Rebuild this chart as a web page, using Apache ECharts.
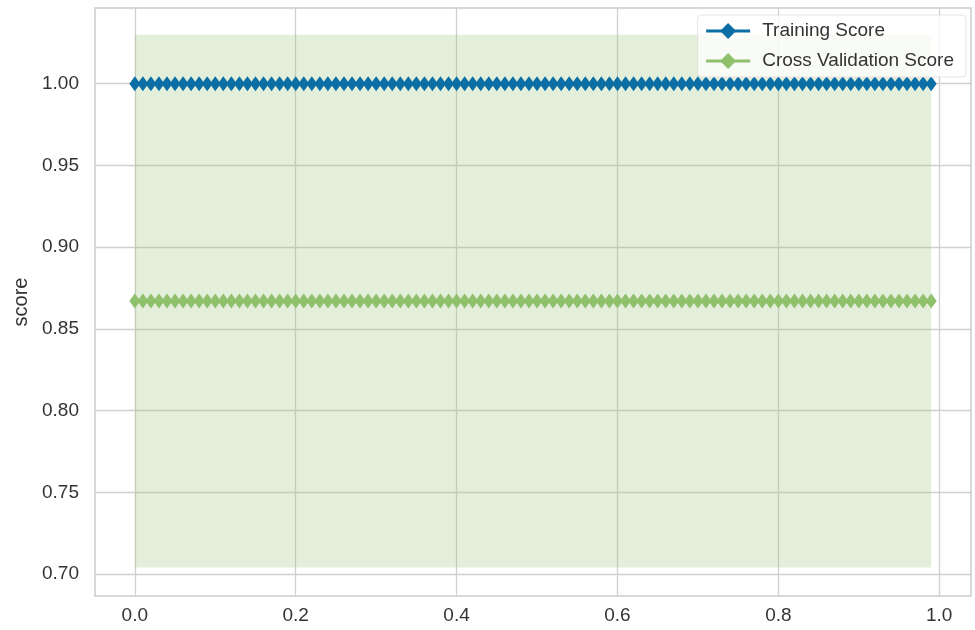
<!DOCTYPE html>
<html>
<head>
<meta charset="utf-8">
<title>Validation Curve</title>
<script src="https://cdn.jsdelivr.net/npm/echarts@6/dist/echarts.min.js"></script>
<style>
  html, body { margin: 0; padding: 0; background: #fff; }
  #chart { width: 975px; height: 630px; }
</style>
</head>
<body>
<div id="chart"></div>
<script>
// parameter values (x) and scores
const paramRange = [
  0.00, 0.01, 0.02, 0.03, 0.04, 0.05, 0.06, 0.07, 0.08, 0.09,
  0.10, 0.11, 0.12, 0.13, 0.14, 0.15, 0.16, 0.17, 0.18, 0.19,
  0.20, 0.21, 0.22, 0.23, 0.24, 0.25, 0.26, 0.27, 0.28, 0.29,
  0.30, 0.31, 0.32, 0.33, 0.34, 0.35, 0.36, 0.37, 0.38, 0.39,
  0.40, 0.41, 0.42, 0.43, 0.44, 0.45, 0.46, 0.47, 0.48, 0.49,
  0.50, 0.51, 0.52, 0.53, 0.54, 0.55, 0.56, 0.57, 0.58, 0.59,
  0.60, 0.61, 0.62, 0.63, 0.64, 0.65, 0.66, 0.67, 0.68, 0.69,
  0.70, 0.71, 0.72, 0.73, 0.74, 0.75, 0.76, 0.77, 0.78, 0.79,
  0.80, 0.81, 0.82, 0.83, 0.84, 0.85, 0.86, 0.87, 0.88, 0.89,
  0.90, 0.91, 0.92, 0.93, 0.94, 0.95, 0.96, 0.97, 0.98, 0.99
];
const trainScores = [
  1, 1, 1, 1, 1, 1, 1, 1, 1, 1,  1, 1, 1, 1, 1, 1, 1, 1, 1, 1,
  1, 1, 1, 1, 1, 1, 1, 1, 1, 1,  1, 1, 1, 1, 1, 1, 1, 1, 1, 1,
  1, 1, 1, 1, 1, 1, 1, 1, 1, 1,  1, 1, 1, 1, 1, 1, 1, 1, 1, 1,
  1, 1, 1, 1, 1, 1, 1, 1, 1, 1,  1, 1, 1, 1, 1, 1, 1, 1, 1, 1,
  1, 1, 1, 1, 1, 1, 1, 1, 1, 1,  1, 1, 1, 1, 1, 1, 1, 1, 1, 1
];
const cvScores = [
  0.867, 0.867, 0.867, 0.867, 0.867, 0.867, 0.867, 0.867, 0.867, 0.867,
  0.867, 0.867, 0.867, 0.867, 0.867, 0.867, 0.867, 0.867, 0.867, 0.867,
  0.867, 0.867, 0.867, 0.867, 0.867, 0.867, 0.867, 0.867, 0.867, 0.867,
  0.867, 0.867, 0.867, 0.867, 0.867, 0.867, 0.867, 0.867, 0.867, 0.867,
  0.867, 0.867, 0.867, 0.867, 0.867, 0.867, 0.867, 0.867, 0.867, 0.867,
  0.867, 0.867, 0.867, 0.867, 0.867, 0.867, 0.867, 0.867, 0.867, 0.867,
  0.867, 0.867, 0.867, 0.867, 0.867, 0.867, 0.867, 0.867, 0.867, 0.867,
  0.867, 0.867, 0.867, 0.867, 0.867, 0.867, 0.867, 0.867, 0.867, 0.867,
  0.867, 0.867, 0.867, 0.867, 0.867, 0.867, 0.867, 0.867, 0.867, 0.867,
  0.867, 0.867, 0.867, 0.867, 0.867, 0.867, 0.867, 0.867, 0.867, 0.867
];
const cvStd = [
  0.163, 0.163, 0.163, 0.163, 0.163, 0.163, 0.163, 0.163, 0.163, 0.163,
  0.163, 0.163, 0.163, 0.163, 0.163, 0.163, 0.163, 0.163, 0.163, 0.163,
  0.163, 0.163, 0.163, 0.163, 0.163, 0.163, 0.163, 0.163, 0.163, 0.163,
  0.163, 0.163, 0.163, 0.163, 0.163, 0.163, 0.163, 0.163, 0.163, 0.163,
  0.163, 0.163, 0.163, 0.163, 0.163, 0.163, 0.163, 0.163, 0.163, 0.163,
  0.163, 0.163, 0.163, 0.163, 0.163, 0.163, 0.163, 0.163, 0.163, 0.163,
  0.163, 0.163, 0.163, 0.163, 0.163, 0.163, 0.163, 0.163, 0.163, 0.163,
  0.163, 0.163, 0.163, 0.163, 0.163, 0.163, 0.163, 0.163, 0.163, 0.163,
  0.163, 0.163, 0.163, 0.163, 0.163, 0.163, 0.163, 0.163, 0.163, 0.163,
  0.163, 0.163, 0.163, 0.163, 0.163, 0.163, 0.163, 0.163, 0.163, 0.163
];
const xTicks = [0.0, 0.2, 0.4, 0.6, 0.8, 1.0];
const yTicks = [0.70, 0.75, 0.80, 0.85, 0.90, 0.95, 1.00];

const BLUE = "#0b6fa6";
const GREEN = "#8fc06b";
const FONT = "Liberation Sans";

const trainData = paramRange.map((x, i) => [x, trainScores[i]]);
const cvData = paramRange.map((x, i) => [x, cvScores[i]]);
const cvBand = paramRange.map((x, i) => [x, cvScores[i] - cvStd[i], cvScores[i] + cvStd[i]]);

// whole std band as one polygon, drawn once
function renderBand(params, api) {
  if (params.dataIndex !== 0) return null;
  const lower = cvBand.map((d) => api.coord([d[0], d[1]]));
  const upper = cvBand.map((d) => api.coord([d[0], d[2]])).reverse();
  return {
    type: "polygon",
    shape: { points: lower.concat(upper) },
    style: { fill: "rgba(143, 192, 107, 0.25)" },
  };
}

const chart = echarts.init(document.getElementById("chart"), null, { renderer: "canvas" });

chart.setOption({
  animation: false,
  textStyle: { fontFamily: FONT },
  grid: {
    left: 95,
    right: 4,
    top: 8,
    bottom: 34,
    outerBoundsMode: "none",
    containLabel: false,
    show: true,
    borderColor: "#cccccc",
    borderWidth: 1.5,
  },
  legend: {
    data: ["Training Score", "Cross Validation Score"],
    orient: "vertical",
    right: 9,
    top: 15,
    padding: [6, 12, 6, 7],
    itemGap: 10,
    itemWidth: 44,
    itemHeight: 20,
    backgroundColor: "rgba(255,255,255,0.8)",
    borderColor: "rgba(220,220,220,0.8)",
    borderWidth: 1,
    borderRadius: 4,
    lineStyle: { width: 3 },
    textStyle: {
      fontFamily: FONT,
      fontSize: 19,
      color: "#333",
      lineHeight: 20,
      padding: [0, 0, 0, 7],
    },
  },
  xAxis: {
    type: "value",
    min: -0.0495,
    max: 1.0395,
    axisLine: { show: false },
    axisTick: { show: false, customValues: xTicks },
    axisLabel: {
      customValues: xTicks,
      color: "#333",
      fontSize: 19,
      margin: 10,
      formatter: (v) => v.toFixed(1),
    },
    splitLine: { show: true, lineStyle: { color: "#d0d0d0", width: 1.3 } },
  },
  yAxis: {
    type: "value",
    min: 0.6866,
    max: 1.0463,
    name: "score",
    nameLocation: "middle",
    nameGap: 64,
    nameTextStyle: { fontFamily: FONT, fontSize: 20, color: "#333" },
    axisLine: { show: false },
    axisTick: { show: false, customValues: yTicks },
    axisLabel: {
      customValues: yTicks,
      color: "#333",
      fontSize: 19,
      margin: 16,
      formatter: (v) => v.toFixed(2),
    },
    splitLine: { show: true, lineStyle: { color: "#d0d0d0", width: 1.3 } },
  },
  series: [
    {
      name: "cv band",
      type: "custom",
      z: 1,
      silent: true,
      renderItem: renderBand,
      encode: { x: 0, y: [1, 2] },
      data: cvBand,
    },
    {
      name: "Training Score",
      type: "line",
      z: 3,
      data: trainData,
      symbol: "diamond",
      symbolSize: [11, 15],
      showAllSymbol: true,
      itemStyle: { color: BLUE },
      lineStyle: { color: BLUE, width: 3 },
    },
    {
      name: "Cross Validation Score",
      type: "line",
      z: 2,
      data: cvData,
      symbol: "diamond",
      symbolSize: [11, 15],
      showAllSymbol: true,
      itemStyle: { color: GREEN },
      lineStyle: { color: GREEN, width: 3 },
    },
  ],
});
</script>
</body>
</html>
